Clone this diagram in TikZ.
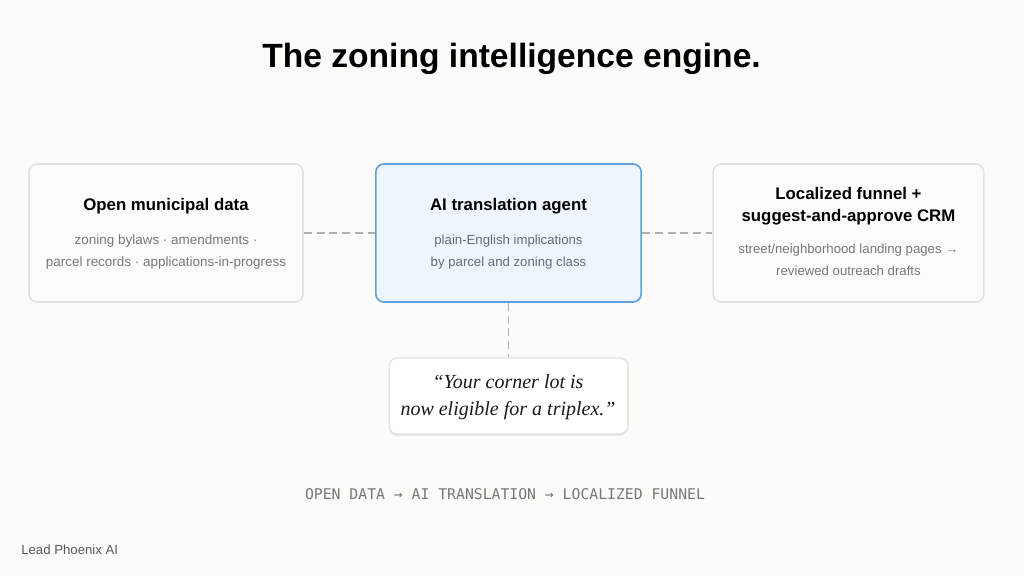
\documentclass[tikz,border=0pt]{standalone}
\usepackage{fontspec}
\setmainfont{Liberation Sans}
\newfontfamily\quotefont{Liberation Serif}
\newfontfamily\codefont{DejaVu Sans Mono}
\usetikzlibrary{shadows}
\definecolor{pagecol}{HTML}{FBFBF8}
\definecolor{boxcol}{HTML}{FCFCFB}
\definecolor{boxline}{HTML}{E2E2E0}
\definecolor{agentcol}{HTML}{EEF5FD}
\definecolor{agentline}{HTML}{5F9FDD}
\definecolor{subcol}{HTML}{77787A}
\definecolor{agentsub}{HTML}{666C74}
\definecolor{linkcol}{HTML}{B0B0B0}
\definecolor{codecol}{HTML}{76777A}
\tikzset{
	panel/.style={draw=boxline, fill=boxcol, line width=1.2pt, rounded corners=6pt, inner sep=0pt},
	agentpanel/.style={panel, draw=agentline, fill=agentcol},
	quotepanel/.style={panel, fill=white, line width=1pt, drop shadow={shadow xshift=0pt, shadow yshift=-1.2pt, opacity=0.10, fill=black}},
	head/.style={align=center, text=black, font=\fontsize{12.6}{16.6}\selectfont\bfseries},
	detail/.style={align=center, text=subcol, font=\fontsize{10.1}{16.6}\selectfont},
	link/.style={draw=linkcol, line width=1.3pt, dash pattern=on 6pt off 3.6pt},
}
\begin{document}
\begin{tikzpicture}[x=0.75pt, y=-0.75pt]
	\fill[pagecol] (0,0) rectangle (1024,576);
	\node (title) at (511.5,59) {\fontsize{25.2}{30}\selectfont\bfseries The zoning intelligence engine.};
	\node[panel, minimum width=205.5pt, minimum height=103.5pt] (opendata) at (166,233) {};
	\node[agentpanel, minimum width=199pt, minimum height=103.5pt] (agent) at (508.5,233) {};
	\node[panel, minimum width=203pt, minimum height=103.5pt] (funnel) at (848.5,233) {};
	\node[quotepanel, minimum width=179pt, minimum height=57pt] (quote) at (508.5,396) {};
%% connectors
	\draw[link] (opendata) -- (agent);
	\draw[link] (agent) -- (funnel);
	\draw[link] (agent) -- (quote);
%% texts in the panels
	\node[head] (opendatahead) at (166,206.5) {Open municipal data};
	\node[detail] (opendatasub) at (166,252) {zoning bylaws · amendments ·\\parcel records · applications-in-progress};
	\node[head] (agenthead) at (508.5,206.5) {AI translation agent};
	\node[detail, text=agentsub, font=\fontsize{9.9}{16.6}\selectfont] (agentsub) at (508.5,252) {plain-English implications\\by parcel and zoning class};
	\node[head] (funnelhead) at (848.5,206) {Localized funnel +\\suggest-and-approve CRM};
	\node[detail, font=\fontsize{9.9}{16.6}\selectfont] (funnelsub) at (848.5,260) {street/neighborhood landing pages →\\reviewed outreach drafts};
	\node[align=center, text=black!90, font=\fontsize{15}{20.5}\selectfont\quotefont\itshape] (quotetext) at (508,397.5) {“Your corner lot is\\now eligible for a triplex.”};
%% footer
	\node[text=codecol, font=\fontsize{11.07}{14}\selectfont\codefont] (flow) at (505,494.5) {OPEN DATA → AI TRANSLATION → LOCALIZED FUNNEL};
	\node[anchor=west, inner sep=0pt, text=black!65, font=\fontsize{9.9}{12}\selectfont] (brand) at (21,550) {Lead Phoenix AI};
\end{tikzpicture}
\end{document}
